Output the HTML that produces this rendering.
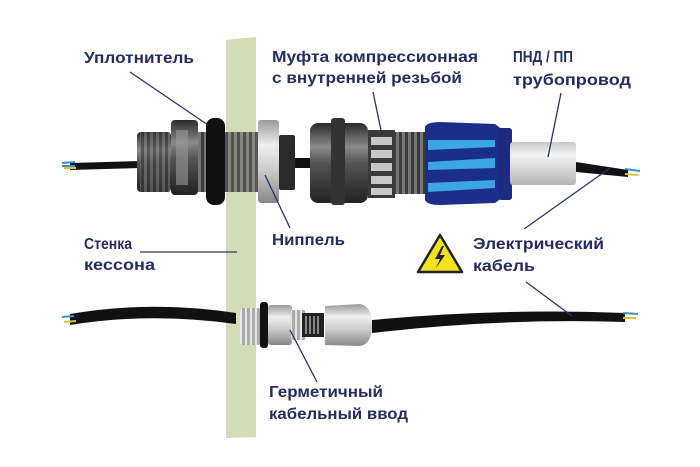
<!DOCTYPE html>
<html><head><meta charset="utf-8"><style>
html,body{margin:0;padding:0;background:#fff;}
svg{display:block}
text{font-family:"Liberation Sans",sans-serif;font-size:16px;font-weight:bold;fill:#262c5e;}
</style></head><body>
<svg width="700" height="467" viewBox="0 0 700 467" xmlns="http://www.w3.org/2000/svg">
<defs>
<linearGradient id="dk" x1="0" y1="0" x2="0" y2="1">
<stop offset="0" stop-color="#2a2a2a"/><stop offset="0.3" stop-color="#8a8a8a"/><stop offset="0.5" stop-color="#555"/><stop offset="1" stop-color="#222"/></linearGradient>
<linearGradient id="lt" x1="0" y1="0" x2="0" y2="1">
<stop offset="0" stop-color="#999"/><stop offset="0.3" stop-color="#eee"/><stop offset="0.6" stop-color="#ccc"/><stop offset="1" stop-color="#888"/></linearGradient>
<linearGradient id="pipe" x1="0" y1="0" x2="0" y2="1">
<stop offset="0" stop-color="#c8c8c8"/><stop offset="0.3" stop-color="#f4f4f4"/><stop offset="1" stop-color="#b5b5b5"/></linearGradient>
<pattern id="thr" width="6" height="10" patternUnits="userSpaceOnUse"><rect width="6" height="10" fill="#3a3a3a"/><rect width="3" height="10" fill="#777"/></pattern>
<pattern id="thl" width="5" height="10" patternUnits="userSpaceOnUse"><rect width="5" height="10" fill="#aaa"/><rect width="2" height="10" fill="#e8e8e8"/></pattern>
</defs>
<path d="M226 40 L242 38 L256 37 L256 437 L226 438 Z" fill="#d3dcb4"/>
<path d="M70 163 L140 161 L140 168 L70 170 Z" fill="#111"/>
<path d="M62 163 L75 162 M62 166 L75 166" stroke="#3b8fd0" stroke-width="2"/>
<path d="M64 168 L76 168" stroke="#e0c23a" stroke-width="2"/>
<rect x="137" y="132" width="34" height="60" rx="4" fill="url(#dk)"/>
<rect x="140" y="132" width="30" height="60" fill="url(#thr)" opacity="0.6"/>
<rect x="171" y="120" width="27" height="75" rx="4" fill="url(#dk)"/>
<rect x="176" y="130" width="12" height="55" fill="#999" opacity="0.6"/>
<rect x="198" y="132" width="10" height="60" fill="url(#thr)"/>
<rect x="206" y="118" width="19" height="87" rx="8" fill="#111"/>
<rect x="225" y="132" width="33" height="60" fill="url(#thr)" opacity="0.85"/>
<rect x="258" y="120" width="21" height="83" rx="3" fill="url(#lt)"/>
<rect x="279" y="135" width="16" height="55" rx="2" fill="#2a2a2a"/>
<rect x="295" y="158" width="16" height="10" fill="#111"/>
<rect x="310" y="123" width="58" height="80" rx="8" fill="url(#dk)"/>
<rect x="331" y="118" width="14" height="87" rx="3" fill="#333"/>
<rect x="368" y="130" width="27" height="68" fill="#3a3a3a"/>
<g fill="#c8c8c8"><rect x="371" y="137" width="21" height="8"/><rect x="371" y="150" width="21" height="8"/><rect x="371" y="163" width="21" height="8"/><rect x="371" y="176" width="21" height="8"/><rect x="371" y="188" width="21" height="7"/></g>
<rect x="395" y="132" width="32" height="62" fill="url(#thr)"/>
<path d="M425 127 Q427 122 440 122 L495 124 L503 130 L503 197 L495 203 L440 205 Q427 205 425 200 Z" fill="#1c2f88"/>
<path d="M428 140 L495 140 L495 147 L428 150 Z M428 162 L495 158 L495 168 L428 170 Z M428 183 L495 180 L495 188 L428 192 Z" fill="#3ba7e0"/>
<rect x="498" y="128" width="14" height="72" rx="3" fill="#1c2a80"/>
<rect x="510" y="142" width="66" height="43" rx="3" fill="url(#pipe)"/>
<path d="M576 162 L628 170 L628 177 L576 172 Z" fill="#111"/>
<path d="M625 169 L640 171" stroke="#3b8fd0" stroke-width="2"/><path d="M625 174 L638 175" stroke="#e0c23a" stroke-width="2"/>
<path d="M70 314 Q150 300 236 313 L236 324 Q150 312 70 325 Z" fill="#111"/>
<path d="M62 317 L74 316" stroke="#3b8fd0" stroke-width="2"/><path d="M64 322 L76 321" stroke="#e0c23a" stroke-width="2"/>
<rect x="240" y="308" width="21" height="37" rx="3" fill="url(#thl)"/>
<rect x="260" y="302" width="8" height="46" rx="3" fill="#111"/>
<rect x="268" y="305" width="24" height="40" rx="3" fill="url(#lt)"/>
<rect x="291" y="310" width="14" height="30" fill="url(#thl)"/>
<rect x="302" y="313" width="22" height="24" fill="#222"/>
<g stroke="#eee" stroke-width="1"><path d="M306 316 V334 M310 316 V334 M314 316 V334 M318 316 V334"/></g>
<path d="M325 306 L360 304 Q372 306 372 325 Q372 344 360 346 L325 345 Z" fill="url(#lt)"/>
<path d="M372 320 Q500 308 625 313 L625 322 Q500 318 372 333 Z" fill="#111"/>
<path d="M623 313 L638 314" stroke="#3b8fd0" stroke-width="2"/><path d="M623 318 L636 318" stroke="#e0c23a" stroke-width="2"/>
<g stroke="#2b3266" stroke-width="1.3" fill="none">
<path d="M130 72 L208 125"/>
<path d="M373 92 L382 135"/>
<path d="M561 93 L548 157"/>
<path d="M290 228 L265 175"/>
<path d="M140 252 L237 252"/>
<path d="M524 229 L610 168"/>
<path d="M526 282 L572 316"/>
<path d="M317 382 L290 330"/>
</g>
<path d="M440 235 L462 272 L418 272 Z" fill="#f4e21a" stroke="#222" stroke-width="2.5" stroke-linejoin="round"/>
<path d="M442 246 L435 259 L440 259 L436 268 L445 255 L440 255 L444 246 Z" fill="#222"/>
<g>
<text x="84" y="63" textLength="110" lengthAdjust="spacingAndGlyphs">Уплотнитель</text>
<text x="272" y="62" textLength="206" lengthAdjust="spacingAndGlyphs">Муфта компрессионная</text>
<text x="272" y="83" textLength="190" lengthAdjust="spacingAndGlyphs">с внутренней резьбой</text>
<text x="513" y="62" textLength="60" lengthAdjust="spacingAndGlyphs">ПНД / ПП</text>
<text x="513" y="85" textLength="118" lengthAdjust="spacingAndGlyphs">трубопровод</text>
<text x="84" y="249" textLength="48" lengthAdjust="spacingAndGlyphs">Стенка</text>
<text x="84" y="270" textLength="71" lengthAdjust="spacingAndGlyphs">кессона</text>
<text x="272" y="245" textLength="73" lengthAdjust="spacingAndGlyphs">Ниппель</text>
<text x="473" y="249" textLength="131" lengthAdjust="spacingAndGlyphs">Электрический</text>
<text x="473" y="271" textLength="62" lengthAdjust="spacingAndGlyphs">кабель</text>
<text x="269" y="397" textLength="114" lengthAdjust="spacingAndGlyphs">Герметичный</text>
<text x="269" y="419" textLength="139" lengthAdjust="spacingAndGlyphs">кабельный ввод</text>
</g>
</svg>
</body></html>
